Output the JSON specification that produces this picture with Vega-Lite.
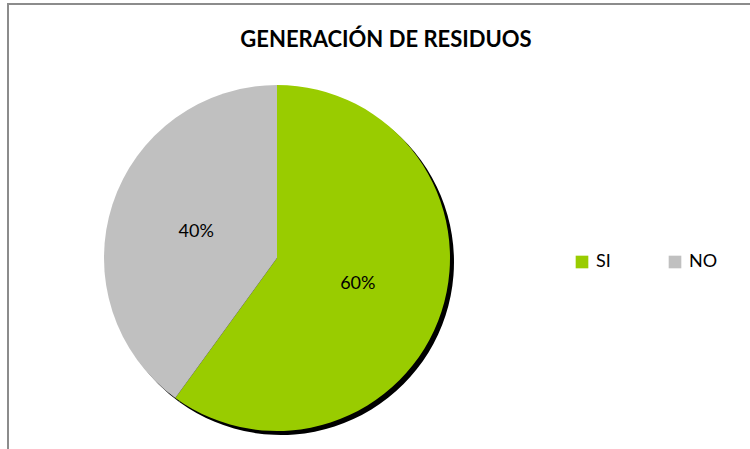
{
  "$schema": "https://vega.github.io/schema/vega-lite/v6.json",
  "autosize": "none",
  "width": 800,
  "height": 500,
  "padding": {"left": 8, "top": 4, "right": 0, "bottom": 0},
  "background": "white",
  "config": {"view": {"stroke": null}},
  "title": {"text": "GENERACIÓN DE RESIDUOS", "font": "Lato", "fontSize": 22, "fontWeight": "bold", "color": "#000000", "anchor": "middle", "dx": -22, "offset": -49},
  "data": {"values": [
    {"categoria": "SI", "porcentaje": 60, "etiqueta": "60%"},
    {"categoria": "NO", "porcentaje": 40, "etiqueta": "40%"}
  ]},
  "layer": [
    {
      "data": {"values": [{"marco": "borde"}]},
      "mark": {"type": "rect", "x": 0, "y": 0, "x2": {"expr": "width"}, "y2": {"expr": "height"}, "fill": "transparent", "stroke": "#8c8c8c", "strokeWidth": 2},
      "encoding": {}
    },
    {
      "mark": {"type": "arc", "outerRadius": 173, "x": 273, "y": 258, "color": "#000000"},
      "encoding": {"theta": {"field": "porcentaje", "type": "quantitative", "stack": true}}
    },
    {
      "mark": {"type": "arc", "outerRadius": 173, "x": 269, "y": 254},
      "encoding": {
        "theta": {"field": "porcentaje", "type": "quantitative", "stack": true},
        "order": {"field": "porcentaje", "type": "quantitative", "sort": "descending"},
        "color": {"field": "categoria", "type": "nominal",
          "scale": {"domain": ["SI", "NO"], "range": ["#99CC00", "#C0C0C0"]},
          "legend": {"title": null, "orient": "none", "legendX": 565, "legendY": 249, "direction": "horizontal", "symbolType": "square", "symbolSize": 160, "symbolStrokeWidth": 0, "labelFont": "Lato", "labelFontSize": 18, "labelColor": "#000000", "columnPadding": 55, "labelOffset": 5}
        }
      }
    },
    {
      "mark": {"type": "text", "radius": 85, "x": 269, "y": 254, "font": "Lato", "fontSize": 18, "color": "#000000"},
      "encoding": {
        "theta": {"field": "porcentaje", "type": "quantitative", "stack": true},
        "order": {"field": "porcentaje", "type": "quantitative", "sort": "descending"},
        "text": {"field": "etiqueta", "type": "nominal"}
      }
    }
  ]
}
